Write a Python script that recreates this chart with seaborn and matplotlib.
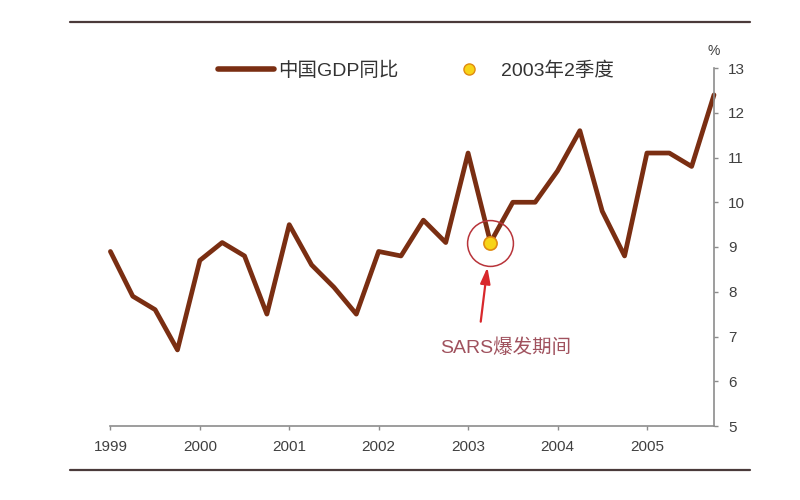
import numpy as np
import pandas as pd
import matplotlib.pyplot as plt
from matplotlib.lines import Line2D
import seaborn as sns

# quarterly GDP growth, 1999Q1 .. 2005Q4
years = [1999, 2000, 2001, 2002, 2003, 2004, 2005]
quarters = [1, 2, 3, 4]
gdp_yoy = [8.9, 7.9, 7.6, 6.7,
           8.7, 9.1, 8.8, 7.5,
           9.5, 8.6, 8.1, 7.5,
           8.9, 8.8, 9.6, 9.1,
           11.1, 9.1, 10.0, 10.0,
           10.7, 11.6, 9.8, 8.8,
           11.1, 11.1, 10.8, 12.4]
y_ticks = [5, 6, 7, 8, 9, 10, 11, 12, 13]
sars_year, sars_quarter = 2003, 2

line_label = "中国GDP同比"
point_label = "2003年2季度"
note_text = "SARS爆发期间"

df = pd.DataFrame({
    "year": np.repeat(years, len(quarters)),
    "quarter": np.tile(quarters, len(years)),
    "gdp": gdp_yoy,
})
df["t"] = df["year"] + (df["quarter"] - 1) / 4
sars = df[(df["year"] == sars_year) & (df["quarter"] == sars_quarter)]

sns.set_theme(style="white")
plt.rcParams["font.family"] = ["Liberation Sans", "Noto Sans CJK SC"]

fig = plt.figure(figsize=(8, 5), dpi=100)
ax = fig.add_axes([0.138, 0.148, 0.7545, 0.716])

line_color = "#7a2e12"
sns.lineplot(data=df, x="t", y="gdp", ax=ax, color=line_color, lw=3.4,
             label=line_label, legend=False, clip_on=False)
sns.scatterplot(data=sars, x="t", y="gdp", ax=ax, color="#f7d417",
                edgecolor="#e08a10", linewidth=1.2, s=90, zorder=5,
                label=point_label, legend=False)
# red ring round the SARS quarter
ax.plot(sars["t"], sars["gdp"], marker="o", ms=33, mfc="none",
        mec="#b8343a", mew=1.1, ls="none", zorder=4)

xs, ys = float(sars["t"].iloc[0]), float(sars["gdp"].iloc[0])
ax.annotate("", xy=(xs, ys), xytext=(-7, -57), textcoords="offset points",
            arrowprops=dict(arrowstyle="-|>,head_length=0.8,head_width=0.25",
                            color="#d8282c", lw=1.6, shrinkA=0, shrinkB=18))
ax.annotate(note_text, xy=(xs, ys), xytext=(11, -76), textcoords="offset points",
            ha="center", va="center", fontsize=14, color="#a0525e")

ax.set_xlim(df["t"].min(), df["t"].max())
ax.set_ylim(min(y_ticks), max(y_ticks))
ax.set_xticks(years)
ax.set_xticklabels([str(y) for y in years])
ax.set_yticks(y_ticks)
ax.yaxis.tick_right()
ax.set_xlabel("")
ax.set_ylabel("")

for side in ["left", "top"]:
    ax.spines[side].set_visible(False)
for side in ["right", "bottom"]:
    ax.spines[side].set_color("#8c8c8c")
    ax.spines[side].set_linewidth(1.2)
ax.tick_params(axis="both", which="both", direction="out", length=3, width=1,
               color="#8c8c8c", labelsize=11, labelcolor="#404040", pad=4)
ax.tick_params(axis="x", bottom=True, pad=7)
ax.tick_params(axis="y", right=True, pad=7)

ax.annotate("%", xy=(1, 1), xycoords="axes fraction", xytext=(0, 7),
            textcoords="offset points", ha="center", va="bottom",
            fontsize=10, color="#404040")

handles = [Line2D([], [], color=line_color, lw=4),
           Line2D([], [], marker="o", ls="none", mfc="#f7d417",
                  mec="#e08a10", ms=8)]
fig.legend(handles, [line_label, point_label], loc="center",
           bbox_to_anchor=(0.52, 0.858), ncol=2, frameon=False, fontsize=14,
           handlelength=2.9, handletextpad=0.2, columnspacing=2.2,
           labelcolor="#333333")

# horizontal rules above and below the chart
for yy in [0.956, 0.06]:
    fig.add_artist(Line2D([0.0875, 0.9375], [yy, yy], color="#4a3a3a",
                          lw=1.6, transform=fig.transFigure))

fig.savefig("out.png", dpi=100, facecolor="white")
